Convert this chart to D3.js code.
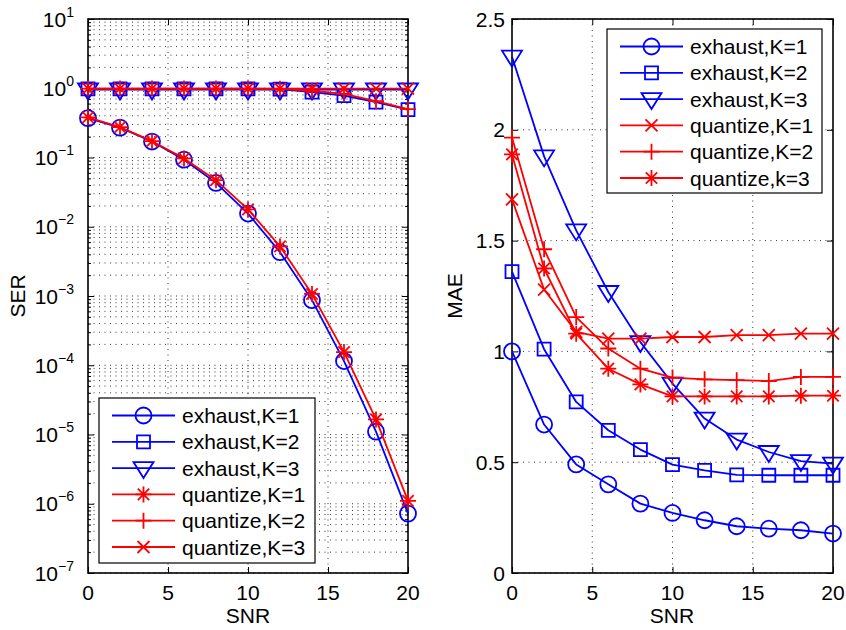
<!DOCTYPE html>
<html><head><meta charset="utf-8">
<script src="https://cdn.jsdelivr.net/npm/d3@7"></script>
<style>
html,body{margin:0;padding:0;background:#fff;}
svg{display:block;font-family:"Liberation Sans",Arial,Helvetica,sans-serif;}
</style></head>
<body><svg id="c" width="846" height="630"></svg>
<script>
// ---------- data ----------
const snr = [0, 2, 4, 6, 8, 10, 12, 14, 16, 18, 20];
const xTicks = [0, 5, 10, 15, 20];
const serExponents = [-7, -6, -5, -4, -3, -2, -1, 0, 1];
const maeTicks = [0, 0.5, 1, 1.5, 2, 2.5];
const maeTickLabels = ["0", "0.5", "1", "1.5", "2", "2.5"];

const serExhaustK1 = [0.37, 0.27, 0.17, 0.093, 0.043, 0.0155, 0.0043, 8.7e-4, 1.15e-4, 1.1e-5, 7.2e-7];
const serExhaustK2 = [0.98, 0.98, 0.98, 0.98, 0.98, 0.98, 0.97, 0.88, 0.78, 0.63, 0.49];
const serExhaustK3 = [0.96, 0.96, 0.96, 0.96, 0.96, 0.96, 0.96, 0.96, 0.96, 0.96, 0.96];
const serQuantK1 = [0.38, 0.275, 0.172, 0.097, 0.047, 0.0178, 0.0052, 1.07e-3, 1.55e-4, 1.65e-5, 1.1e-6];
const serQuantK2 = [0.99, 0.99, 0.99, 0.99, 0.99, 0.99, 0.98, 0.92, 0.83, 0.65, 0.50];
const serQuantK3 = [0.99, 0.99, 0.99, 0.99, 0.99, 0.99, 0.99, 0.99, 0.99, 0.99, 0.99];

const maeExhaustK1 = [1.0, 0.67, 0.49, 0.40, 0.313, 0.271, 0.238, 0.211, 0.200, 0.193, 0.178];
const maeExhaustK2 = [1.36, 1.01, 0.772, 0.644, 0.557, 0.489, 0.463, 0.443, 0.441, 0.441, 0.441];
const maeExhaustK3 = [2.33, 1.88, 1.546, 1.268, 1.042, 0.855, 0.697, 0.602, 0.546, 0.505, 0.494];
const maeQuantK1 = [1.686, 1.279, 1.088, 1.058, 1.058, 1.065, 1.065, 1.073, 1.073, 1.08, 1.08];
const maeQuantK2 = [1.965, 1.461, 1.155, 1.013, 0.922, 0.882, 0.874, 0.870, 0.866, 0.885, 0.885];
const maeQuantK3 = [1.889, 1.374, 1.08, 0.922, 0.851, 0.797, 0.797, 0.797, 0.797, 0.80, 0.80];

const serLabels = ["exhaust,K=1", "exhaust,K=2", "exhaust,K=3", "quantize,K=1", "quantize,K=2", "quantize,K=3"];
const maeLabels = ["exhaust,K=1", "exhaust,K=2", "exhaust,K=3", "quantize,K=1", "quantize,K=2", "quantize,k=3"];

const BLUE = "#0000ff", RED = "#ff0000";

const serSeries = [
  {v: serExhaustK1, c: BLUE, m: "circle"},
  {v: serExhaustK2, c: BLUE, m: "square"},
  {v: serExhaustK3, c: BLUE, m: "tri"},
  {v: serQuantK1, c: RED, m: "star"},
  {v: serQuantK2, c: RED, m: "plus"},
  {v: serQuantK3, c: RED, m: "x"}
];
const maeSeries = [
  {v: maeExhaustK1, c: BLUE, m: "circle"},
  {v: maeExhaustK2, c: BLUE, m: "square"},
  {v: maeExhaustK3, c: BLUE, m: "tri"},
  {v: maeQuantK1, c: RED, m: "x"},
  {v: maeQuantK2, c: RED, m: "plus"},
  {v: maeQuantK3, c: RED, m: "star"}
];

// ---------- helpers ----------
const svg = d3.select("#c");
const FS = 21;

function markerPath(m) {
  switch (m) {
    case "circle": { const p = d3.path(); p.arc(0, 0, 8, 0, 2 * Math.PI); return p.toString(); }
    case "square": return "M-6.5,-6.5H6.5V6.5H-6.5Z";
    case "tri": return "M-10,-6H10L0,10Z";
    case "plus": return "M-8,0H8M0,-8V8";
    case "x": return "M-6,-6L6,6M-6,6L6,-6";
    case "star": return "M-8,0H8M0,-8V8M-5.7,-5.7L5.7,5.7M-5.7,5.7L5.7,-5.7";
  }
}

function drawMarker(g, m, c, x, y) {
  g.append("path").attr("d", markerPath(m)).attr("transform", `translate(${x},${y})`)
    .attr("fill", "none").attr("stroke", c).attr("stroke-width", 1.8);
}

function drawPanel(opt) {
  const {x0, x1, y0, y1, yScale, series, gridY, minorY} = opt;
  const x = d3.scaleLinear().domain([0, 20]).range([x0, x1]);
  const y = yScale.range([y1, y0]);
  const g = svg.append("g");

  const gridX = [5, 10, 15];
  g.selectAll(null).data(gridX).join("line")
    .attr("x1", d => x(d)).attr("x2", d => x(d)).attr("y1", y0).attr("y2", y1)
    .attr("stroke", "#222").attr("stroke-width", 0.9).attr("stroke-dasharray", "1,4.5");
  g.selectAll(null).data(gridY.concat(minorY || [])).join("line")
    .attr("x1", x0).attr("x2", x1).attr("y1", d => y(d)).attr("y2", d => y(d))
    .attr("stroke", "#222").attr("stroke-width", 0.9).attr("stroke-dasharray", "1,4.5");

  g.append("g").attr("transform", `translate(0,${y1})`)
    .call(d3.axisBottom(x).tickValues(xTicks).tickSize(-6).tickFormat(""));
  g.append("g").attr("transform", `translate(0,${y0})`)
    .call(d3.axisTop(x).tickValues(xTicks).tickSize(-6).tickFormat(""));
  g.append("g").attr("transform", `translate(${x0},0)`)
    .call(d3.axisLeft(y).tickValues(gridY).tickSize(-6).tickFormat(""));
  g.append("g").attr("transform", `translate(${x1},0)`)
    .call(d3.axisRight(y).tickValues(gridY).tickSize(-6).tickFormat(""));
  if (minorY) {
    g.append("g").attr("transform", `translate(${x0},0)`)
      .call(d3.axisLeft(y).tickValues(minorY).tickSize(-3).tickFormat(""));
    g.append("g").attr("transform", `translate(${x1},0)`)
      .call(d3.axisRight(y).tickValues(minorY).tickSize(-3).tickFormat(""));
  }
  g.selectAll(".domain").remove();
  g.selectAll(".tick line").attr("stroke", "#000").attr("stroke-width", 1);
  g.append("rect").attr("x", x0).attr("y", y0).attr("width", x1 - x0).attr("height", y1 - y0)
    .attr("fill", "none").attr("stroke", "#000").attr("stroke-width", 1.6);

  g.selectAll(null).data(xTicks).join("text")
    .attr("x", d => x(d)).attr("y", y1 + 27).attr("text-anchor", "middle")
    .attr("font-size", FS).text(d => d);

  const line = d3.line().x((d, i) => x(snr[i])).y(d => y(d));
  series.forEach(s => {
    g.append("path").datum(s.v).attr("d", line).attr("fill", "none")
      .attr("stroke", s.c).attr("stroke-width", 1.8).attr("stroke-linejoin", "round");
    s.v.forEach((v, i) => drawMarker(g, s.m, s.c, x(snr[i]), y(v)));
  });
  return {x, y, g};
}

function drawLegend(bx, by, bw, bh, series, labels) {
  const g = svg.append("g");
  g.append("rect").attr("x", bx).attr("y", by).attr("width", bw).attr("height", bh)
    .attr("fill", "#fff").attr("stroke", "#000").attr("stroke-width", 1.2);
  const rowY = d3.scaleLinear().domain([0, 5]).range([by + 17.5, by + 17.5 + 5 * 26.3]);
  series.forEach((s, i) => {
    const yy = rowY(i);
    g.append("line").attr("x1", bx + 13).attr("x2", bx + 76).attr("y1", yy).attr("y2", yy)
      .attr("stroke", s.c).attr("stroke-width", 1.8);
    drawMarker(g, s.m, s.c, bx + 44.5, yy);
    g.append("text").attr("x", bx + 83).attr("y", yy + 7.5).attr("font-size", FS).text(labels[i]);
  });
}

// ---------- left panel: SER (log) ----------
const majorsSER = serExponents.map(e => Math.pow(10, e));
const minorsSER = [];
for (let e = -7; e < 1; e++) for (let k = 2; k <= 9; k++) minorsSER.push(k * Math.pow(10, e));
const left = drawPanel({x0: 88, x1: 408, y0: 19, y1: 573,
  yScale: d3.scaleLog().domain([1e-7, 10]), series: serSeries, gridY: majorsSER, minorY: minorsSER});

const ylab = svg.append("g");
serExponents.forEach(e => {
  const t = ylab.append("text").attr("x", 74).attr("y", left.y(Math.pow(10, e)) + 7.5)
    .attr("text-anchor", "end").attr("font-size", FS);
  t.append("tspan").text("10");
  t.append("tspan").attr("font-size", 14).attr("dy", -10).text(e < 0 ? "\u2212" + (-e) : String(e));
});
svg.append("text").attr("x", 248).attr("y", 623).attr("text-anchor", "middle").attr("font-size", FS).text("SNR");
svg.append("text").attr("transform", "translate(25,296) rotate(-90)").attr("text-anchor", "middle")
  .attr("font-size", FS).text("SER");
drawLegend(99, 398, 216, 165, serSeries, serLabels);

// ---------- right panel: MAE ----------
const right = drawPanel({x0: 512, x1: 833, y0: 19, y1: 573,
  yScale: d3.scaleLinear().domain([0, 2.5]), series: maeSeries, gridY: maeTicks, minorY: null});
svg.append("g").selectAll("text").data(maeTicks).join("text")
  .attr("x", 505).attr("y", d => right.y(d) + 7.5).attr("text-anchor", "end").attr("font-size", FS)
  .text((d, i) => maeTickLabels[i]);
svg.append("text").attr("x", 672).attr("y", 623).attr("text-anchor", "middle").attr("font-size", FS).text("SNR");
svg.append("text").attr("transform", "translate(462,296) rotate(-90)").attr("text-anchor", "middle")
  .attr("font-size", FS).text("MAE");
drawLegend(607, 29, 215, 164, maeSeries, maeLabels);
</script></body></html>
